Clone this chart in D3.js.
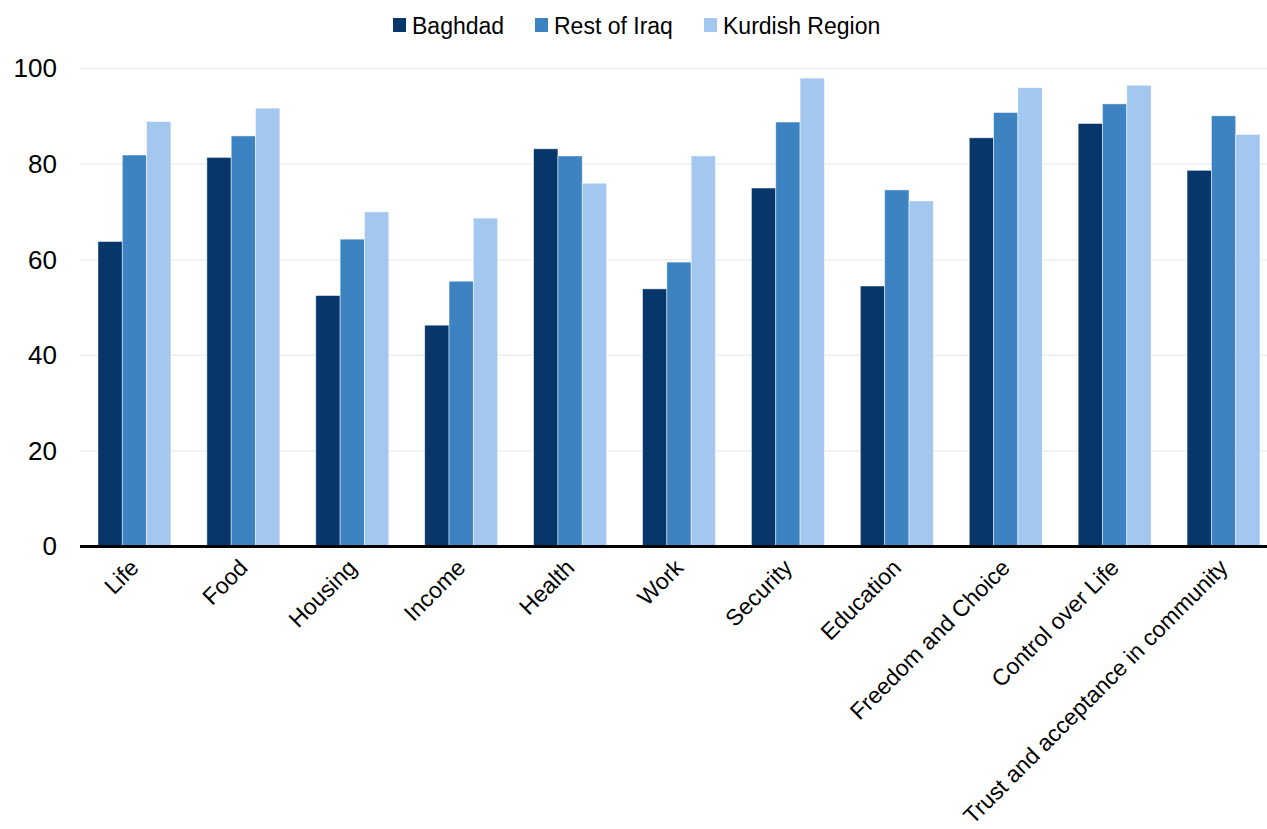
<!DOCTYPE html>
<html>
<head>
<meta charset="utf-8">
<script src="https://cdn.jsdelivr.net/npm/d3@7"></script>
<style>
  body { margin: 0; background: #fff; }
  svg { font-family: "Liberation Sans", Arial, sans-serif; }
</style>
</head>
<body>
<svg id="chart"></svg>
<script>
// Categories and series values
const categories = ["Life", "Food", "Housing", "Income", "Health", "Work", "Security",
    "Education", "Freedom and Choice", "Control over Life", "Trust and acceptance in community"];
const seriesNames = ["Baghdad", "Rest of Iraq", "Kurdish Region"];
const baghdad = [63.8, 81.4, 52.5, 46.3, 83.2, 53.9, 75.0, 54.5, 85.5, 88.5, 78.7];
const restOfIraq = [81.9, 85.9, 64.3, 55.5, 81.7, 59.5, 88.8, 74.6, 90.8, 92.6, 90.1];
const kurdish = [88.9, 91.7, 70.0, 68.7, 76.0, 81.7, 98.0, 72.3, 96.0, 96.5, 86.2];
const yTicks = [0, 20, 40, 60, 80, 100];
const colors = ["#07366a", "#3d83c2", "#a4c7f0"];

const width = 1267, height = 829;
const svg = d3.select("#chart").attr("width", width).attr("height", height);

// Rows for the grouped bars
const seriesValues = [baghdad, restOfIraq, kurdish];
const data = categories.map((c, i) => ({
    cat: c,
    vals: seriesNames.map((s, j) => ({ key: s, val: seriesValues[j][i] }))
}));

const xScale = d3.scaleBand()
    .domain(categories)
    .range([80, 1278])
    .paddingInner(0.33)
    .paddingOuter(0.165);

const xSub = d3.scaleBand()
    .domain(seriesNames)
    .range([0, xScale.bandwidth()]);

const yScale = d3.scaleLinear()
    .domain([0, 100])
    .range([546.5, 68.5]);

const colorScale = d3.scaleOrdinal().domain(seriesNames).range(colors);

// Gridlines
svg.append("g")
    .selectAll("line")
    .data(yTicks.filter(d => d > 0))
    .join("line")
    .attr("x1", 80).attr("x2", width)
    .attr("y1", d => yScale(d)).attr("y2", d => yScale(d))
    .attr("stroke", "#efefef")
    .attr("stroke-width", 1.5);

// Y axis labels
const yAxis = d3.axisLeft(yScale).tickValues(yTicks).tickSize(0).tickPadding(0);
const yAxisG = svg.append("g")
    .attr("transform", "translate(57,0)")
    .call(yAxis);
yAxisG.select(".domain").remove();
yAxisG.selectAll("text")
    .attr("font-size", 26)
    .attr("fill", "#000")
    .attr("font-family", "Liberation Sans, Arial, sans-serif");

// Bars
svg.append("g")
    .selectAll("g")
    .data(data)
    .join("g")
    .attr("transform", d => `translate(${xScale(d.cat)},0)`)
    .selectAll("rect")
    .data(d => d.vals)
    .join("rect")
    .attr("x", d => xSub(d.key))
    .attr("y", d => yScale(d.val))
    .attr("width", xSub.bandwidth())
    .attr("height", d => yScale(0) - yScale(d.val))
    .attr("fill", d => colorScale(d.key))
    .attr("stroke", "#ffffff")
    .attr("stroke-opacity", 0.6)
    .attr("stroke-width", 0.8);

// X axis baseline
svg.append("line")
    .attr("x1", 80).attr("x2", width)
    .attr("y1", yScale(0)).attr("y2", yScale(0))
    .attr("stroke", "#000")
    .attr("stroke-width", 3);

// X axis labels rotated
svg.append("g")
    .selectAll("text")
    .data(categories)
    .join("text")
    .attr("transform", d => `translate(${xScale(d) + xScale.bandwidth() / 2},${yScale(0) + 17}) rotate(-45)`)
    .attr("text-anchor", "end")
    .attr("dy", "0.35em")
    .attr("font-size", 23)
    .attr("fill", "#000")
    .text(d => d);

// Legend
const legendItems = [
    { name: "Baghdad", x: 393 },
    { name: "Rest of Iraq", x: 535 },
    { name: "Kurdish Region", x: 704 }
];
const legend = svg.append("g")
    .selectAll("g")
    .data(legendItems)
    .join("g")
    .attr("transform", d => `translate(${d.x},18)`);
legend.append("rect")
    .attr("width", 13).attr("height", 14)
    .attr("fill", d => colorScale(d.name));
legend.append("text")
    .attr("x", 19).attr("y", 15.5)
    .attr("font-size", 23)
    .attr("fill", "#000")
    .text(d => d.name);
</script>
</body>
</html>
